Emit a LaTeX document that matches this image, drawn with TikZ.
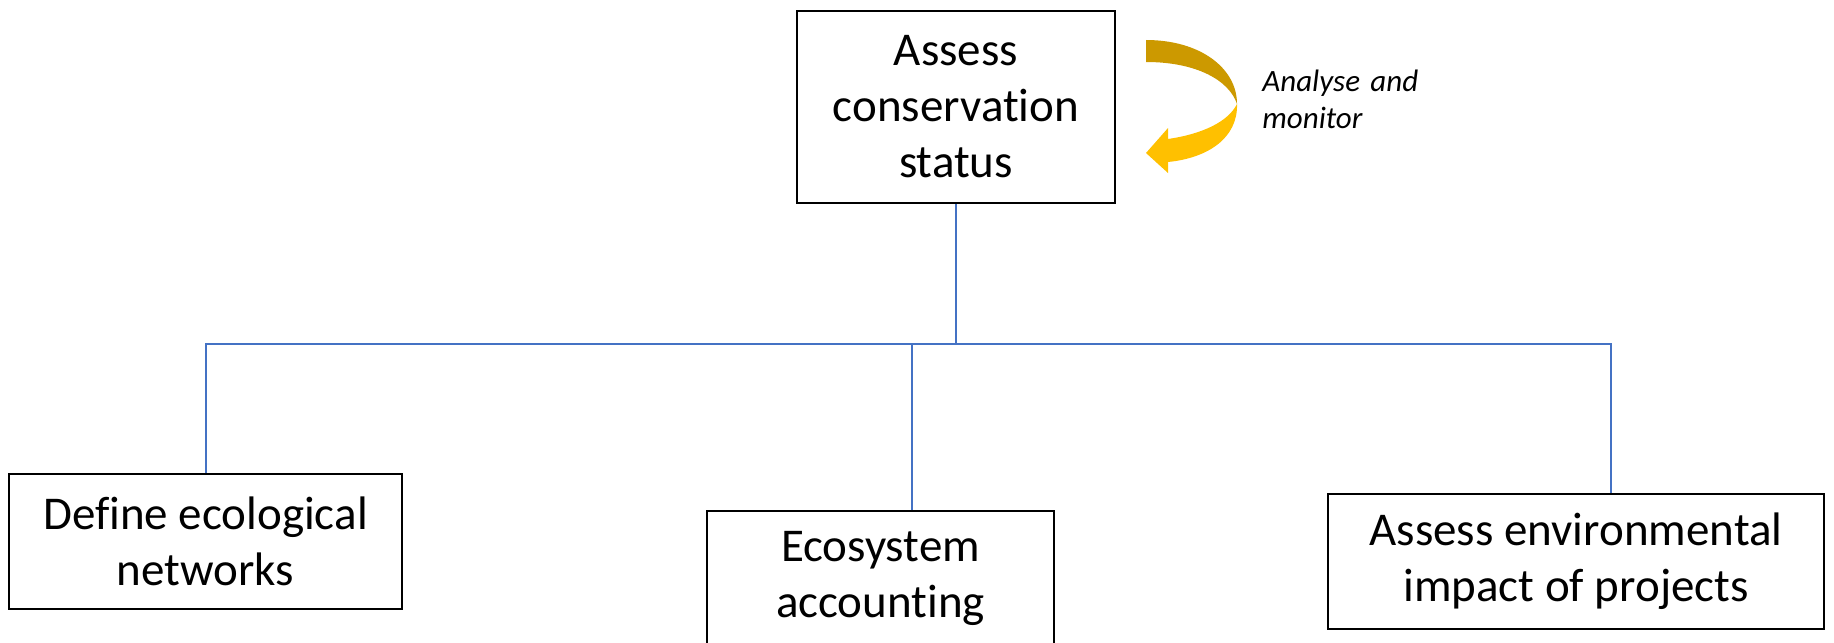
\documentclass[tikz,border=0pt]{standalone}
\usepackage{fontspec}
\setmainfont{Carlito}[Ligatures={NoCommon,NoContextual}]
\usepackage{xcolor}
\usepackage{tikz}
\usetikzlibrary{positioning}

\definecolor{linkblue}{HTML}{4472C4}
\definecolor{darkgold}{HTML}{CC9900}
\definecolor{gold}{HTML}{FFC000}

\begin{document}
\begin{tikzpicture}[x = 0.5pt, y = -0.5pt]
            \tikzstyle{task} = [draw=black, line width=1pt, align=center, inner sep=0pt, font=\fontsize{23.5}{28}\selectfont];
            \tikzstyle{note} = [anchor=base west, align=left, text width=100pt, inner sep=0pt, font=\itshape\fontsize{15.5}{18.5}\selectfont];
            \tikzstyle{link} = [draw=linkblue, line width=1pt];
            \useasboundingbox (0,0) rectangle (1834,642);

            \node [task, minimum width=159pt, minimum height=96pt] (T0) at (956,107) {Assess\\conservation\\status};

            \node [task, minimum width=196.5pt, minimum height=67.5pt, below left = 134.5pt and 196.5pt of T0] (T1) {Define ecological\\networks};
            \node [task, minimum width=173.5pt, minimum height=67.5pt, below = 153pt of T0, xshift=-37.75pt] (T2) {Ecosystem\\accounting};
            \node [task, minimum width=248pt, minimum height=67.5pt, below right = 144.5pt and 105.5pt of T0] (T3) {Assess environmental\\impact of projects};

            % ribbon arrow beside the top box
            \fill [darkgold] (1146,40) .. controls (1200,40) and (1237,68) .. (1237,104) .. controls (1229,80) and (1196,62) .. (1146,62) -- cycle;
            \fill [gold] (1237,104) .. controls (1238,138) and (1208,158) .. (1168,162) -- (1168,173) -- (1146,153) -- (1168,128) -- (1168,139) .. controls (1202,134) and (1228,122) .. (1237,104) -- cycle;
            \node [note] (N0) at (1262,91) {Analyse and\\monitor};

            \draw [link] (T0.south) -- ++(0pt,-70pt) coordinate (hub);
            \draw [link] (T1.north) |- (hub) -| ([xshift=17.5pt]T3.north);
            \draw [link] ([xshift=15.75pt]T2.north) -- ([xshift=15.75pt]T2.north |- hub);
        \end{tikzpicture}
\end{document}
